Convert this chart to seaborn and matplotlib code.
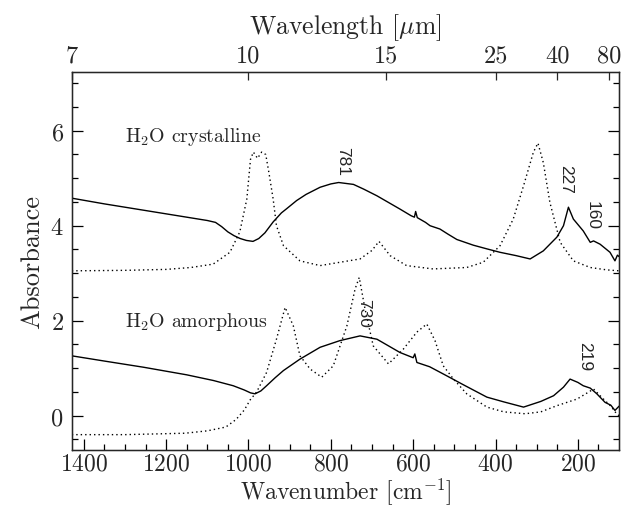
import matplotlib
matplotlib.use('Agg')
import matplotlib.pyplot as plt
import seaborn as sns
import numpy as np
import pandas as pd

# ---------------------------------------------------------------
# data (wavenumber in cm^-1, absorbance)
# ---------------------------------------------------------------
cryst_solid_wn = [1429, 1350, 1250, 1150, 1100, 1080, 1065, 1050, 1035, 1020, 1005, 989, 975,
                  960, 940, 920, 907, 883, 860, 826, 800, 781, 745, 720, 688, 660, 632,
                  605, 597, 594, 590, 570, 559, 535, 515, 494, 454, 420, 389, 350, 316,
                  284, 251, 235, 223, 211, 187, 170, 162, 146, 122, 110, 104, 100]
cryst_solid_abs = [4.58, 4.46, 4.32, 4.18, 4.11, 4.07, 3.98, 3.87, 3.79, 3.73, 3.69, 3.67, 3.73,
                   3.85, 4.08, 4.27, 4.36, 4.53, 4.66, 4.81, 4.88, 4.91, 4.87, 4.77, 4.63, 4.49, 4.35,
                   4.21, 4.18, 4.30, 4.17, 4.07, 4.00, 3.93, 3.82, 3.71, 3.59, 3.51, 3.44, 3.37, 3.30,
                   3.47, 3.76, 4.00, 4.39, 4.14, 3.89, 3.65, 3.68, 3.61, 3.44, 3.26, 3.38, 3.35]

cryst_dot_wn = [1429, 1300, 1200, 1140, 1086, 1045, 1021, 1004, 995, 988, 978, 968, 958,
                950, 940, 932, 915, 875, 826, 778, 729, 700, 683, 656, 616, 552, 470,
                430, 389, 357, 332, 308, 297, 284, 268, 243, 211, 170, 130, 100]
cryst_dot_abs = [3.05, 3.06, 3.08, 3.12, 3.19, 3.44, 3.87, 4.56, 5.40, 5.55, 5.42, 5.55, 5.50,
                 5.10, 4.56, 4.00, 3.58, 3.26, 3.16, 3.23, 3.30, 3.48, 3.67, 3.37, 3.16, 3.09, 3.12,
                 3.23, 3.58, 4.14, 4.84, 5.55, 5.74, 5.33, 4.49, 3.65, 3.26, 3.12, 3.07, 3.05]

amor_solid_wn = [1429, 1350, 1255, 1150, 1085, 1037, 1010, 995, 984, 970, 956, 935, 915, 875,
                 826, 778, 729, 688, 632, 600, 596, 591, 560, 523, 478, 421, 380, 332,
                 290, 259, 235, 219, 200, 187, 170, 154, 134, 120, 110, 100]
amor_solid_abs = [1.26, 1.15, 1.02, 0.86, 0.74, 0.63, 0.54, 0.48, 0.46, 0.52, 0.63, 0.80, 0.95, 1.19,
                  1.44, 1.58, 1.68, 1.61, 1.33, 1.22, 1.30, 1.12, 1.03, 0.86, 0.65, 0.39, 0.29, 0.18,
                  0.30, 0.42, 0.60, 0.77, 0.70, 0.63, 0.58, 0.46, 0.28, 0.22, 0.11, 0.20]

amor_dot_wn = [1429, 1300, 1154, 1100, 1055, 1030, 1010, 996, 980, 956, 932, 911, 891, 875,
               850, 822, 794, 761, 741, 731, 717, 697, 660, 624, 591, 567, 547, 527, 502,
               470, 421, 380, 328, 290, 251, 202, 162, 138, 120, 106, 100]
amor_dot_abs = [-0.40, -0.40, -0.37, -0.32, -0.24, -0.08, 0.12, 0.33, 0.50, 0.91, 1.61, 2.28, 1.89, 1.26,
                0.98, 0.81, 1.05, 1.89, 2.67, 2.91, 2.25, 1.47, 1.09, 1.40, 1.76, 1.93, 1.58, 1.05, 0.77,
                0.46, 0.18, 0.08, 0.04, 0.08, 0.21, 0.35, 0.56, 0.35, 0.20, 0.04, 0.00]

# peak labels: text, wavenumber, absorbance
peak_labels = ['781', '227', '160', '730', '219']
peak_wn = [771, 231, 166, 721, 184]
peak_abs = [5.38, 5.00, 4.23, 2.18, 1.26]

# top axis wavelengths (micron)
wavelengths = [7, 10, 15, 25, 40, 80]

# ---------------------------------------------------------------
sns.set_style('ticks')
plt.rcParams['font.family'] = ['cmr10', 'DejaVu Serif']
plt.rcParams['mathtext.fontset'] = 'cm'
plt.rcParams['axes.formatter.use_mathtext'] = True

fig, ax = plt.subplots(figsize=(6.33, 5.06), dpi=100)
fig.subplots_adjust(left=0.1137, right=0.978, bottom=0.109, top=0.856)

dotted = (0, (1, 2.2))
curves = [
    (cryst_solid_wn, cryst_solid_abs, '-'),
    (cryst_dot_wn, cryst_dot_abs, dotted),
    (amor_solid_wn, amor_solid_abs, '-'),
    (amor_dot_wn, amor_dot_abs, dotted),
]
for wn, ab, ls in curves:
    df = pd.DataFrame({'wn': wn, 'abs': ab})
    sns.lineplot(data=df, x='wn', y='abs', sort=False, color='black',
                 linewidth=1.0, linestyle=ls, ax=ax)

ax.set_xlim(10000 / 7, 100)
ax.set_ylim(-0.72, 7.24)
ax.set_xticks([1400, 1200, 1000, 800, 600, 400, 200])
ax.set_xticks(np.arange(150, 1450, 50), minor=True)
ax.set_yticks([0, 2, 4, 6])
ax.set_yticks(np.arange(-0.5, 7.1, 0.5), minor=True)
ax.tick_params(which='both', direction='in', color='black', width=0.9,
               labelsize=17.5, right=True, top=False)
ax.tick_params(axis='x', pad=2, labelsize=17)
ax.tick_params(axis='y', pad=6)
ax.tick_params(which='major', length=8)
ax.tick_params(which='minor', length=4.5)
ax.set_xlabel('Wavenumber [cm$^{-1}$]', fontsize=17, labelpad=0)
ax.set_ylabel('Absorbance', fontsize=19, labelpad=4)
for s in ax.spines.values():
    s.set_color('black')
    s.set_linewidth(1.0)

ax2 = ax.twiny()
ax2.set_xlim(ax.get_xlim())
ax2.set_xticks([10000 / l for l in wavelengths])
ax2.set_xticklabels([str(l) for l in wavelengths])
ax2.tick_params(direction='in', length=6, width=0.9, labelsize=17.5, pad=4)
ax2.set_xlabel('Wavelength [$\\mu$m]', fontsize=18.5, labelpad=8)

ax.text(1300, 5.89, 'H$_2$O crystalline', fontsize=14.3, ha='left', va='center')
ax.text(1300, 2.0, 'H$_2$O amorphous', fontsize=14.3, ha='left', va='center')
for t, x, y in zip(peak_labels, peak_wn, peak_abs):
    ax.text(x, y, t, fontsize=12.5, rotation=270, ha='center', va='center',
            family=['Liberation Sans', 'DejaVu Sans'])

fig.savefig('out.png', dpi=100)
